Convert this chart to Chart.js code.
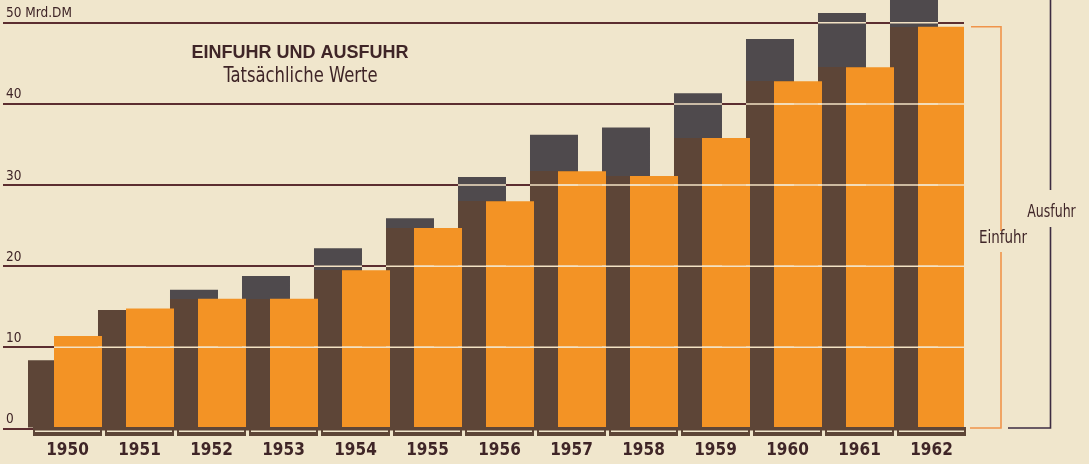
<!DOCTYPE html>
<html><head><meta charset="utf-8">
<script src="https://cdn.jsdelivr.net/npm/chart.js@4.4.1/dist/chart.umd.min.js"></script>
<style>html,body{margin:0;padding:0;background:#f0e6cc;overflow:hidden}canvas{display:block}</style>
</head><body><canvas id="c" width="1089" height="464"></canvas>
<script>
// ---- data (Mrd. DM) ----
const years = ['1950','1951','1952','1953','1954','1955','1956','1957','1958','1959','1960','1961','1962'];
const ausfuhr = [8.4, 14.6, 17.1, 18.8, 22.2, 25.9, 31.0, 36.2, 37.1, 41.3, 48.0, 51.2, 53.0];
const einfuhr = [11.4, 14.8, 16.0, 16.0, 19.5, 24.7, 28.0, 31.7, 31.1, 35.8, 42.8, 44.5, 49.5];
const yTicks = [0, 10, 20, 30, 40, 50];
const yTickLabels = ['0', '10', '20', '30', '40', '50 Mrd.DM'];
const seriesNames = ['Ausfuhr', 'Einfuhr'];
const titleText = 'EINFUHR UND AUSFUHR';
const subtitleText = 'Tatsächliche Werte';

// ---- styles ----
const NARROW = '"Liberation Sans Narrow", "DejaVu Sans Condensed", sans-serif';
const TEXT = '#3f2527';
const ORANGE = '#f39325';
const BROWN = '#5d4537';
const GREY = '#4f4a4d';
const GRID = '#5c2e30';
const LIGHT = '#f3e2c4';

function darkColor(ctx) {
  const chart = ctx.chart, ca = chart.chartArea;
  if (ctx.type !== 'data' || !ca || !chart.scales.y) return BROWN;
  const i = ctx.dataIndex;
  if (ausfuhr[i] <= einfuhr[i]) return BROWN;
  const yo = chart.scales.y.getPixelForValue(einfuhr[i]);
  const t = Math.min(1, Math.max(0, (yo - ca.top) / (ca.bottom - ca.top)));
  const g = chart.ctx.createLinearGradient(0, ca.top, 0, ca.bottom);
  g.addColorStop(0, GREY); g.addColorStop(t, GREY);
  g.addColorStop(t, BROWN); g.addColorStop(1, BROWN);
  return g;
}

// draw the Ausfuhr (dark) bars underneath the Einfuhr (orange) bars
const layering = {
  id: 'layering',
  beforeDatasetsDraw(chart) {
    const ca = chart.chartArea, ctx = chart.ctx;
    ctx.save();
    ctx.beginPath(); ctx.rect(ca.left, ca.top, ca.right - ca.left, ca.bottom - ca.top); ctx.clip();
    chart.getDatasetMeta(0).controller.draw();
    ctx.restore();
  },
  beforeDatasetDraw(chart, args) { if (args.index === 0) return false; }
};

function squeezedText(ctx, text, x, y, font, sx) {
  ctx.save();
  ctx.font = font;
  ctx.translate(x, y); ctx.scale(sx, 1);
  ctx.fillText(text, 0, 0);
  ctx.restore();
}

const decor = {
  id: 'decor',
  afterDatasetsDraw(chart) {
    const {ctx, chartArea: ca, scales: {x, y}} = chart;
    ctx.save();
    // light grid lines across the bars
    ctx.strokeStyle = LIGHT; ctx.lineWidth = 1.5;
    yTicks.forEach(v => {
      if (v === 0) return;
      const py = y.getPixelForValue(v);
      chart.data.datasets.forEach((ds, di) => {
        chart.getDatasetMeta(di).data.forEach(bar => {
          const p = bar.getProps(['x', 'y', 'width', 'base'], true);
          if (py > Math.max(p.y, ca.top) + 1 && py < p.base - 1) {
            ctx.beginPath(); ctx.moveTo(p.x - p.width / 2, py); ctx.lineTo(p.x + p.width / 2, py); ctx.stroke();
          }
        });
      });
    });
    // base plate under the years
    const zy = y.getPixelForValue(0);
    const segs = years.map((_, i) => { const c = x.getPixelForValue(i) + 3.5; return [c - 34.5, c + 34.5]; });
    ctx.fillStyle = BROWN;
    ctx.fillRect(segs[0][0], zy - 1.5, segs[segs.length - 1][1] - segs[0][0], 3.5);
    segs.forEach(([L, R]) => {
      ctx.fillRect(L, zy + 3.5, R - L, 4);
      ctx.fillRect(L, zy + 1.5, 2, 2.5);
      ctx.fillRect(R - 2, zy + 1.5, 2, 2.5);
    });
    // right-hand brackets
    const yE = y.getPixelForValue(einfuhr[einfuhr.length - 1]);
    ctx.lineWidth = 1.6;
    ctx.strokeStyle = '#f0944a';
    ctx.beginPath();
    ctx.moveTo(971, yE); ctx.lineTo(1001, yE); ctx.lineTo(1001, 231);
    ctx.moveTo(1001, 252); ctx.lineTo(1001, zy - 0.5); ctx.lineTo(970, zy - 0.5);
    ctx.stroke();
    ctx.strokeStyle = '#3d2c42';
    ctx.beginPath();
    ctx.moveTo(1050.5, ca.top); ctx.lineTo(1050.5, 190);
    ctx.moveTo(1050.5, 227); ctx.lineTo(1050.5, zy - 0.5); ctx.lineTo(1008, zy - 0.5);
    ctx.stroke();
    ctx.fillStyle = TEXT;
    ctx.textAlign = 'center'; ctx.textBaseline = 'middle';
    squeezedText(ctx, seriesNames[1], 1003, 239, '17px ' + NARROW, 0.88);
    squeezedText(ctx, seriesNames[0], 1051.5, 213, '17px ' + NARROW, 0.82);
    // titles
    squeezedText(ctx, titleText, 300, 53, 'bold 18px "Liberation Sans", Arial, sans-serif', 1);
    squeezedText(ctx, subtitleText, 300.5, 77, '21px ' + NARROW, 0.87);
    ctx.restore();
  }
};

new Chart(document.getElementById('c'), {
  type: 'bar',
  data: {
    labels: years,
    datasets: [
      { label: seriesNames[0], data: ausfuhr, backgroundColor: darkColor, borderWidth: 0,
        categoryPercentage: 0.778, barPercentage: 1.714 },
      { label: seriesNames[1], data: einfuhr, backgroundColor: ORANGE, borderWidth: 0,
        categoryPercentage: 0.778, barPercentage: 1.714 }
    ]
  },
  options: {
    responsive: false,
    devicePixelRatio: 1,
    animation: false,
    layout: { padding: { left: 6, right: 125, top: 0, bottom: 0 } },
    plugins: { legend: { display: false }, tooltip: { enabled: false }, title: { display: false } },
    scales: {
      x: {
        grid: { display: false, drawTicks: false },
        border: { display: false },
        ticks: { autoSkip: false, maxRotation: 0, padding: 11.5, labelOffset: 3.5,
          color: TEXT, font: { family: NARROW, size: 17, weight: 'bold' } },
        afterFit: s => { s.height = 35.5; s.paddingLeft = 0; s.paddingRight = 0; }
      },
      y: {
        min: 0, max: 52.8,
        afterBuildTicks: s => { s.ticks = yTicks.map(v => ({ value: v })); },
        afterTickToLabelConversion: s => {
          s.ticks.forEach(t => { const k = yTicks.indexOf(t.value); if (k >= 0) t.label = yTickLabels[k]; });
        },
        grid: { color: GRID, lineWidth: 2, drawTicks: true, tickLength: 25 },
        border: { display: false },
        ticks: { mirror: true, crossAlign: 'near', padding: -22, labelOffset: -9, color: TEXT,
          font: { family: NARROW, size: 13.5 },
          callback: (v, i) => yTickLabels[i] },
        afterFit: s => { s.width = 22; s.paddingTop = 0; s.paddingBottom = 0; }
      }
    }
  },
  plugins: [layering, decor]
});
</script></body></html>
